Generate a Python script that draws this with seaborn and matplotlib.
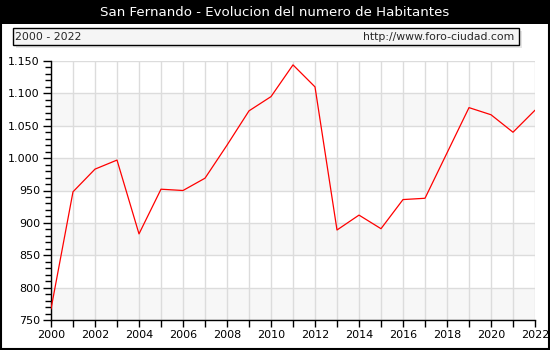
import matplotlib
matplotlib.use("Agg")
import matplotlib.pyplot as plt
from matplotlib.patches import Rectangle
from matplotlib.ticker import MultipleLocator, FuncFormatter
import seaborn as sns
import pandas as pd

# Population of San Fernando per year
years = list(range(2000, 2023))
habitantes = [767, 948, 983, 997, 883, 952, 950, 969, 1020, 1073, 1095, 1144,
              1110, 889, 912, 891, 936, 938, 1008, 1078, 1067, 1040, 1074]

title = "San Fernando - Evolucion del numero de Habitantes"
period = "2000 - 2022"
site = "http://www.foro-ciudad.com"

df = pd.DataFrame({"year": years, "habitantes": habitantes})

sns.set_theme(style="white")
plt.rcParams["font.family"] = ["DejaVu Sans"]

fig = plt.figure(figsize=(5.5, 3.5), dpi=100)
fig.patch.set_facecolor("white")

# title bar
fig.patches.append(Rectangle((0, 1 - 24 / 350), 1, 24 / 350, transform=fig.transFigure,
                             facecolor="black", edgecolor="none", zorder=0))
fig.text(0.5, 1 - 12 / 350, title, color="white", ha="center", va="center", fontsize=9.6)

# subtitle box with a soft shadow
fig.patches.append(Rectangle((16 / 550, 1 - 48 / 350), 506 / 550, 17 / 350,
                             transform=fig.transFigure, facecolor="#e6e6e6",
                             edgecolor="none", zorder=1))
fig.patches.append(Rectangle((13 / 550, 1 - 45 / 350), 506 / 550, 17 / 350,
                             transform=fig.transFigure, facecolor="#f5f5f5",
                             edgecolor="black", linewidth=1, zorder=2))
fig.text(15 / 550, 1 - 36.5 / 350, period, ha="left", va="center", fontsize=7.8, zorder=3)
fig.text(514 / 550, 1 - 36.5 / 350, site, ha="right", va="center", fontsize=7.8, zorder=3)

# outer frame
fig.patches.append(Rectangle((0.5 / 550, 1.5 / 350), 548 / 550, 347 / 350,
                             transform=fig.transFigure, facecolor="none",
                             edgecolor="black", linewidth=1.5, zorder=5))

ax = fig.add_axes([51 / 550, 1 - 320 / 350, 484 / 550, 259 / 350])
ax.set_facecolor("white")

# alternating horizontal bands
for lo in range(750, 1150, 100):
    ax.axhspan(lo, lo + 50, facecolor="#f7f7f7", edgecolor="none", zorder=0)

sns.lineplot(data=df, x="year", y="habitantes", color="red", linewidth=0.9, ax=ax, zorder=3)

ax.set_xlim(2000, 2022)
ax.set_ylim(750, 1150)
ax.xaxis.set_major_locator(MultipleLocator(2))
ax.xaxis.set_minor_locator(MultipleLocator(1))
ax.yaxis.set_major_locator(MultipleLocator(50))
ax.yaxis.set_minor_locator(MultipleLocator(10))
ax.yaxis.set_major_formatter(FuncFormatter(lambda v, p: f"{int(v):,}".replace(",", ".")))

ax.grid(True, which="major", axis="y", color="#dcdcdc", linewidth=1, zorder=1)
ax.grid(True, which="both", axis="x", color="#dcdcdc", linewidth=1, zorder=1)
ax.set_axisbelow(True)

for side in ["top", "right"]:
    ax.spines[side].set_visible(False)
for side in ["left", "bottom"]:
    ax.spines[side].set_color("black")
    ax.spines[side].set_linewidth(1)

ax.tick_params(axis="both", which="both", direction="out", color="black",
               labelsize=8, labelcolor="black", width=1)
ax.tick_params(axis="y", which="major", length=6, left=True, pad=2)
ax.tick_params(axis="y", which="minor", length=4, left=True)
ax.tick_params(axis="x", which="both", length=5, bottom=True, pad=2)
ax.set_xlabel("")
ax.set_ylabel("")

fig.savefig("out.png", dpi=100)
